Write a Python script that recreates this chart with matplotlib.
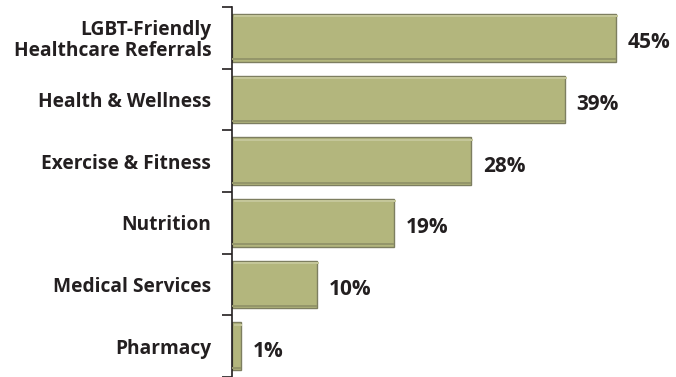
import numpy as np
import matplotlib.pyplot as plt

categories = ["LGBT-Friendly\nHealthcare Referrals", "Health & Wellness", "Exercise & Fitness",
              "Nutrition", "Medical Services", "Pharmacy"]
values = [45, 39, 28, 19, 10, 1]

plt.rcParams['font.family'] = ['Open Sans', 'DejaVu Sans']

fig = plt.figure(figsize=(6.76, 3.77), dpi=100)
ax = fig.add_axes([232 / 676, 0.0, 1 - 232 / 676, 1 - 7 / 377])

y = np.arange(len(categories))
bar_col = '#b3b67d'
ax.barh(y, values, height=0.77, color=bar_col, edgecolor='#7d7e60', linewidth=1.0, zorder=2)
# light top edge and darker lower edge for the bevel look
ax.barh(y - 0.35, values, height=0.035, left=0.2, color='#c4c699', linewidth=0, zorder=3)
ax.barh(y + 0.35, values, height=0.035, color='#94966a', linewidth=0, zorder=3)

for yi, v in zip(y, values):
    ax.text(v + 1.4, yi + 0.08, f"{v}%", va='center', ha='left', fontsize=15,
            fontweight='bold', color='#231f20')

ax.set_xlim(0, (676 - 232) / (384 / 45))
ax.set_ylim(len(categories) - 0.5, -0.5)

for s in ['top', 'right', 'bottom']:
    ax.spines[s].set_visible(False)
ax.spines['left'].set_color('#231f20')
ax.spines['left'].set_linewidth(1.2)

ax.set_xticks([])
ax.set_yticks(np.arange(len(categories) + 1) - 0.5)
ax.set_yticklabels([])
ax.tick_params(axis='y', which='major', length=7, width=1.2, color='#231f20')
ax.set_yticks(y, minor=True)
ax.set_yticklabels(categories, minor=True, fontsize=13.8, fontweight='bold',
                   color='#231f20', ha='right', linespacing=1.05)
ax.tick_params(axis='y', which='minor', length=0, pad=15)

fig.savefig('out.png', dpi=100)
